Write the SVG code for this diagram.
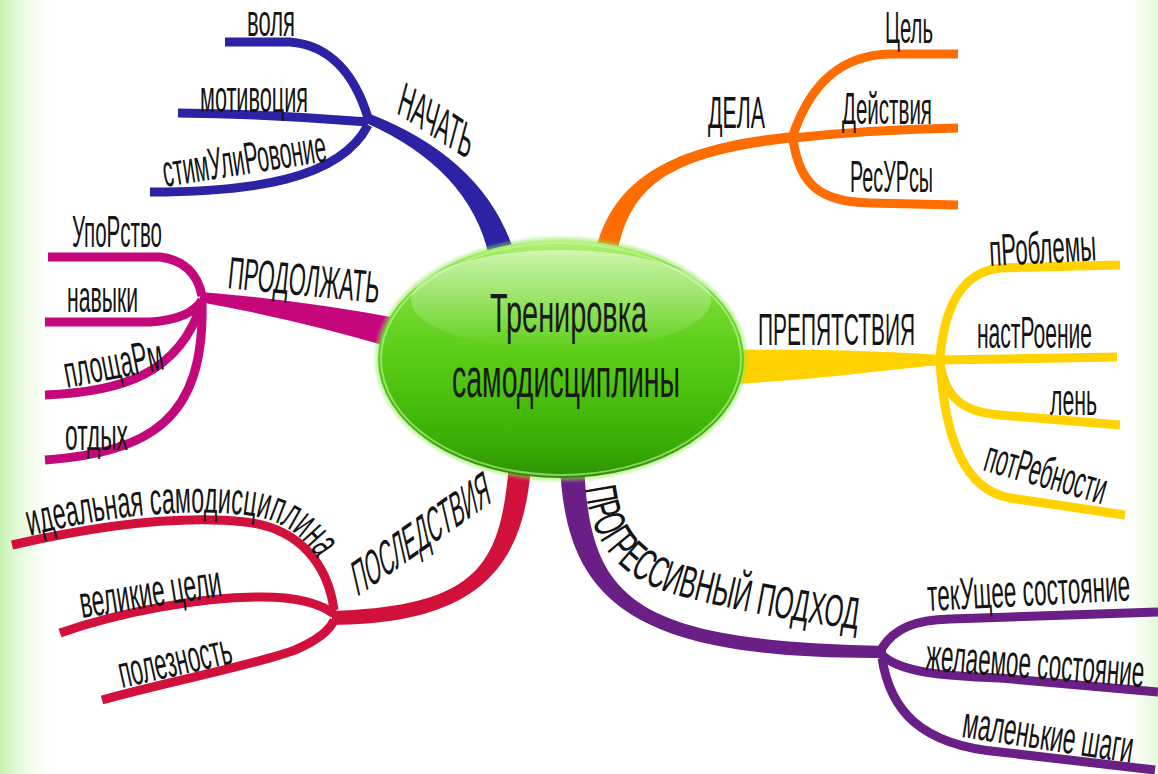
<svg xmlns="http://www.w3.org/2000/svg" width="1158" height="774" viewBox="0 0 1158 774">
<defs>
<linearGradient id="bgL" x1="0" y1="0" x2="1" y2="0"><stop offset="0" stop-color="#c4f4ad"/><stop offset="1" stop-color="#ffffff" stop-opacity="0"/></linearGradient>
<linearGradient id="bgR" x1="1" y1="0" x2="0" y2="0"><stop offset="0" stop-color="#e2f8d8"/><stop offset="1" stop-color="#ffffff" stop-opacity="0"/></linearGradient>
<linearGradient id="egg" x1="0" y1="0" x2="0" y2="1"><stop offset="0" stop-color="#b8f27e"/><stop offset="0.12" stop-color="#86e242"/><stop offset="0.5" stop-color="#58cc14"/><stop offset="0.85" stop-color="#3aae06"/><stop offset="1" stop-color="#2c9200"/></linearGradient>
<linearGradient id="gloss" x1="0" y1="0" x2="0" y2="1"><stop offset="0" stop-color="#ffffff" stop-opacity="0.5"/><stop offset="1" stop-color="#ffffff" stop-opacity="0"/></linearGradient>
<filter id="soft" x="-10%" y="-10%" width="120%" height="120%"><feGaussianBlur stdDeviation="1.6"/></filter>
</defs>
<style>
.t{font-family:"Liberation Sans","DejaVu Sans",sans-serif;font-size:45px;fill:#141414}
.c{font-family:"Liberation Sans","DejaVu Sans",sans-serif;font-size:55px;fill:#1a1a1a}
.sb{fill:none;stroke-width:9;stroke-linecap:butt}
.blue{stroke:#2b23a3}.bluef{fill:#2b23a3}
.orange{stroke:#ff6c00}.orangef{fill:#ff6c00}
.mag{stroke:#c4087c}.magf{fill:#c4087c}
.yel{stroke:#ffd200}.yelf{fill:#ffd200}
.red{stroke:#d2103c}.redf{fill:#d2103c}
.pur{stroke:#6a1f86}.purf{fill:#6a1f86}
</style>
<rect width="1158" height="774" fill="#ffffff"/>
<rect x="0" y="0" width="60" height="774" fill="url(#bgL)"/>
<rect x="1118" y="0" width="40" height="774" fill="url(#bgR)"/>

<g id="connectors">
<path class="bluef" d="M515.7,257.2 Q487.5,159.5 368.9,113.4 L365.1,122.6 Q473.5,170.5 490.3,262.8 Z"/>
<path class="sb blue" d="M225,42 L290,42 C330,45 355,75 368,118"/>
<path class="sb blue" d="M178,113 C260,114 320,118 368,122"/>
<path class="sb blue" d="M150,192 C250,192 340,180 368,125"/>
<path class="orangef" d="M615.8,261.9 C627.4,186.6 665.6,156 795.5,142 L794.5,132 C664.4,144 608.6,183.4 594.2,258.1 Z"/>
<path class="sb orange" d="M793,135 C810,85 840,55 890,54 L958,54"/>
<path class="sb orange" d="M793,138 C850,132 900,129 958,128"/>
<path class="sb orange" d="M793,140 C800,185 820,202 870,203 L958,205"/>
<path class="magf" d="M398.5,318.4 Q301.8,300.2 200.6,292 L199.4,302 Q298.2,319.8 391.5,347.6 Z"/>
<path class="sb mag" d="M48,257 L160,257 C185,260 198,275 202,296"/>
<path class="sb mag" d="M45,322 L150,322 C180,320 195,312 202,300"/>
<path class="sb mag" d="M45,395 C120,392 180,375 202,302"/>
<path class="sb mag" d="M45,460 C150,452 205,420 202,302"/>
<path class="yelf" d="M730,350 C820,349 880,351 942,355 L942,365 C880,370 820,380 730,384 Z"/>
<path class="sb yel" d="M940,358 C945,300 965,272 1000,268 L1120,265"/>
<path class="sb yel" d="M940,360 L1117,357"/>
<path class="sb yel" d="M940,362 C945,400 965,412 1000,415 L1120,425"/>
<path class="sb yel" d="M940,362 C945,440 965,490 1010,498 L1125,515"/>
<path class="redf" d="M509,464.1 C500.5,564.1 479.8,606 332,611 L332,625 C480.2,624 523.5,565.9 531,465.9 Z"/>
<path class="sb red" d="M12,545 C100,525 180,515 245,522 C300,528 328,565 334,610"/>
<path class="sb red" d="M60,633 C120,612 200,597 262,597 C300,597 322,605 334,614"/>
<path class="sb red" d="M102,700 C175,680 255,665 295,650 C318,640 330,630 334,620"/>
<path class="purf" d="M560,465.5 C566,600.5 630,660 886,658 L886,646 C630,641 590,599.5 584,464.5 Z"/>
<path class="sb pur" d="M882,648 C895,628 915,620 950,619 L1158,612"/>
<path class="sb pur" d="M882,655 C900,672 940,676 1000,678 L1158,692"/>
<path class="sb pur" d="M882,658 C890,710 920,745 1000,752 L1155,770"/>
</g>

<g id="center">
<ellipse cx="561" cy="359" rx="186" ry="122" fill="#8fe656" opacity="0.5" filter="url(#soft)"/>
<ellipse cx="561" cy="359" rx="183" ry="119" fill="url(#egg)"/>
<ellipse cx="561" cy="359" rx="180" ry="116" fill="none" stroke="#c6f7a0" stroke-width="2" opacity="0.6"/>
<ellipse cx="561" cy="300" rx="150" ry="50" fill="url(#gloss)"/>
<text class="c" x="490" y="332" textLength="157" lengthAdjust="spacingAndGlyphs">Тренировка</text>
<text class="c" x="452" y="397" textLength="228" lengthAdjust="spacingAndGlyphs">самодисциплины</text>
</g>

<g id="n-nachat">
<text class="t" transform="translate(396,113) rotate(33) skewX(18)" textLength="86" lengthAdjust="spacingAndGlyphs">НАЧАТЬ</text>
<text class="t" x="247" y="36" textLength="48" lengthAdjust="spacingAndGlyphs">воля</text>
<text class="t" x="200" y="112" textLength="108" lengthAdjust="spacingAndGlyphs">мотивоция</text>
<text class="t" transform="translate(165,187) rotate(-9)" textLength="165" lengthAdjust="spacingAndGlyphs">стимУлиРовоние</text>
</g>

<g id="n-dela">
<text class="t" x="708" y="128" textLength="57" lengthAdjust="spacingAndGlyphs">ДЕЛА</text>
<text class="t" x="885" y="43" textLength="48" lengthAdjust="spacingAndGlyphs">Цель</text>
<text class="t" x="842" y="124" textLength="90" lengthAdjust="spacingAndGlyphs">Действия</text>
<text class="t" x="850" y="192" textLength="83" lengthAdjust="spacingAndGlyphs">РесУРсы</text>
</g>

<g id="n-prodolzhat">
<text class="t" transform="translate(227,288) rotate(5.7)" textLength="152" lengthAdjust="spacingAndGlyphs">ПРОДОЛЖАТЬ</text>
<text class="t" x="72" y="247" textLength="90" lengthAdjust="spacingAndGlyphs">УпоРство</text>
<text class="t" x="67" y="312" textLength="71" lengthAdjust="spacingAndGlyphs">навыки</text>
<text class="t" transform="translate(67,388) rotate(-11)" textLength="100" lengthAdjust="spacingAndGlyphs">площаРм</text>
<text class="t" x="65" y="450" textLength="63" lengthAdjust="spacingAndGlyphs">отдых</text>
</g>

<g id="n-prepyatstviya">
<text class="t" x="758" y="345" textLength="157" lengthAdjust="spacingAndGlyphs">ПРЕПЯТСТВИЯ</text>
<text class="t" transform="translate(990,266) rotate(-3)" textLength="107" lengthAdjust="spacingAndGlyphs">пРоблемы</text>
<text class="t" x="977" y="348" textLength="115" lengthAdjust="spacingAndGlyphs">настРоение</text>
<text class="t" x="1050" y="415" textLength="47" lengthAdjust="spacingAndGlyphs">лень</text>
<text class="t" transform="translate(982,470) rotate(16)" textLength="125" lengthAdjust="spacingAndGlyphs">потРебности</text>
</g>

<g id="n-posledstviya">
<text class="t" transform="translate(357,597) rotate(-35) skewX(-22)" textLength="165" lengthAdjust="spacingAndGlyphs">ПОСЛЕДСТВИЯ</text>
<path id="pIdeal" d="M30,536 C100,517 180,508 245,515 C293,520 318,548 330,590" fill="none"/>
<text class="t"><textPath href="#pIdeal" textLength="305" lengthAdjust="spacingAndGlyphs">идеальная  самодисциплина</textPath></text>
<text class="t" transform="translate(82,618) rotate(-9)" textLength="143" lengthAdjust="spacingAndGlyphs">великие  цели</text>
<text class="t" transform="translate(122,688) rotate(-12.6)" textLength="115" lengthAdjust="spacingAndGlyphs">полезность</text>
</g>

<g id="n-progressivny">
<path id="pProg" d="M585,488 C592,545 620,580 680,596 C740,612 800,622 870,631" fill="none"/>
<text class="t"><textPath href="#pProg" textLength="335" lengthAdjust="spacingAndGlyphs">ПРОГРЕССИВНЫЙ  ПОДХОД</textPath></text>
<text class="t" transform="translate(928,611) rotate(-3)" textLength="203" lengthAdjust="spacingAndGlyphs">текУщее  состояние</text>
<text class="t" transform="translate(925,670) rotate(4.5)" textLength="219" lengthAdjust="spacingAndGlyphs">желаемое  состояние</text>
<text class="t" transform="translate(961,737) rotate(8.7)" textLength="172" lengthAdjust="spacingAndGlyphs">маленькие  шаги</text>
</g>
</svg>
